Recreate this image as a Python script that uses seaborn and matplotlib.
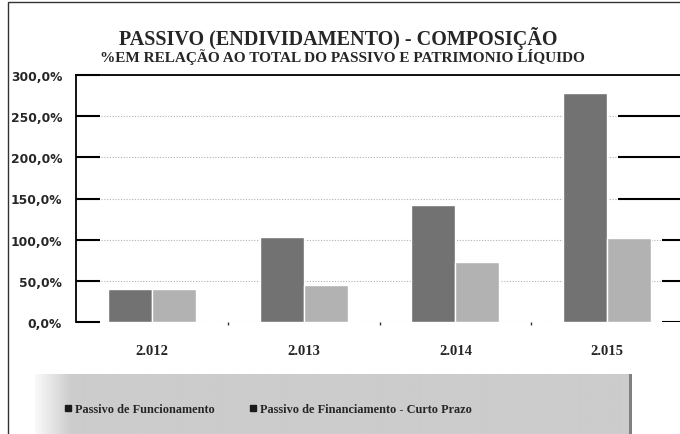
# Passivo (Endividamento) - Composicao
# ==============================================================================

import pandas as pd
import numpy as np
import matplotlib.pyplot as plt
import seaborn as sns
import matplotlib.ticker as ticker
from matplotlib.lines import Line2D
from matplotlib.patches import Rectangle

# Data
# ==============================================================================
anos          = ["2.012", "2.013", "2.014", "2.015"]
funcionamento = [40.0, 103.0, 142.0, 278.0]
financiamento = [40.5, 45.0, 73.0, 102.0]
series        = ["Passivo de Funcionamento", "Passivo de Financiamento - Curto Prazo"]
yticks        = [0, 50, 100, 150, 200, 250, 300]

df = pd.DataFrame({
    "ano"   : anos * 2,
    "valor" : funcionamento + financiamento,
    "serie" : [series[0]] * len(anos) + [series[1]] * len(anos),
})

# Figure
# ==============================================================================
sns.set_theme(style="white")
serif = "Liberation Serif"

fig = plt.figure(figsize=(6.8, 4.35), dpi=100)
fig.patch.set_facecolor("white")

# outer chart border (right/bottom are cut off in the original)
fig.add_artist(Rectangle((8/680, -0.2), 1.2, 1.2 - 3/435,
                         transform=fig.transFigure, fill=False,
                         edgecolor="#333333", linewidth=1.0))

ax = fig.add_axes([76/680, 112/435, 607/680, 247/435])

sns.barplot(
    data      = df,
    x         = "ano",
    y         = "valor",
    hue       = "serie",
    palette   = ["#727272", "#b2b2b2"],
    width     = 0.58,
    edgecolor = "white",
    linewidth = 1.0,
    legend    = False,
    ax        = ax
)

ax.set_ylim(0, 300)
ax.set_xlim(-0.5, 3.5)
ax.set_yticks(yticks)
ax.yaxis.set_major_formatter(
    ticker.FuncFormatter(lambda v, p: f"{v:.1f}%".replace(".", ","))
)
ax.set_xlabel("")
ax.set_ylabel("")

# dotted grid, black top line, left axis with long ticks
ax.grid(axis="y", linestyle=(0, (1, 1.5)), color="#b0b0b0", linewidth=0.8)
ax.set_axisbelow(True)
for side in ["right", "bottom"]:
    ax.spines[side].set_visible(False)
ax.spines["top"].set_color("black")
ax.spines["top"].set_linewidth(1.3)
ax.spines["left"].set_color("black")
ax.spines["left"].set_linewidth(1.3)

ax.tick_params(axis="y", direction="in", length=17, width=1.5, color="black",
               pad=10, left=True)
ax.tick_params(axis="x", length=0, pad=16)
ax.set_xticks([0.5, 1.5, 2.5], minor=True)
ax.tick_params(axis="x", which="minor", direction="out", length=2, width=1,
               color="#333333", bottom=True)

for lab in ax.get_yticklabels():
    lab.set_fontfamily("DejaVu Sans")
    lab.set_fontweight("bold")
    lab.set_fontsize(8.8)
for lab in ax.get_xticklabels():
    lab.set_fontfamily(serif)
    lab.set_fontweight("bold")
    lab.set_fontsize(10.5)

# black grid artefacts at the right edge of the scan
ax.hlines([150, 200, 250], 3.07, 3.5, color="black", linewidth=1.5)
ax.hlines([0, 50, 100], 3.36, 3.5, color="black", linewidth=1.5)

# Titles
# ==============================================================================
fig.text(0.497, 1 - 39/435, "PASSIVO (ENDIVIDAMENTO) - COMPOSIÇÃO",
         ha="center", va="center", fontsize=14.5, fontweight="bold",
         family=serif)
fig.text(0.504, 1 - 57/435, "%EM RELAÇÃO AO TOTAL DO PASSIVO E PATRIMONIO LÍQUIDO",
         ha="center", va="center", fontsize=11, fontweight="bold",
         family=serif)

# Legend box with gray gradient
# ==============================================================================
lax = fig.add_axes([35/680, 0, 597/680, 60/435])
cols = np.linspace(0, 1, 600)
shade = np.where(cols < 0.06, 0.98 - (cols / 0.06) * 0.18, 0.80)
shade = np.where(cols > 0.996, 0.5, shade)
lax.imshow(np.tile(shade, (20, 1)), cmap="gray", vmin=0, vmax=1,
           aspect="auto", extent=(0, 1, 0, 1))
lax.set_axis_off()

handles = [
    Line2D([], [], marker="s", linestyle="", markersize=4,
           markerfacecolor="#1a1a1a", markeredgecolor="#1a1a1a"),
    Line2D([], [], marker="s", linestyle="", markersize=4,
           markerfacecolor="#1a1a1a", markeredgecolor="#1a1a1a"),
]
fig.legend(handles, series, loc="center", bbox_to_anchor=(268/680, 1 - 410/435),
           ncol=2, frameon=False, handlelength=0.6, handletextpad=0.3,
           columnspacing=2.8, prop={"family": serif, "weight": "bold", "size": 8.8})

plt.savefig("out.png", dpi=100)
